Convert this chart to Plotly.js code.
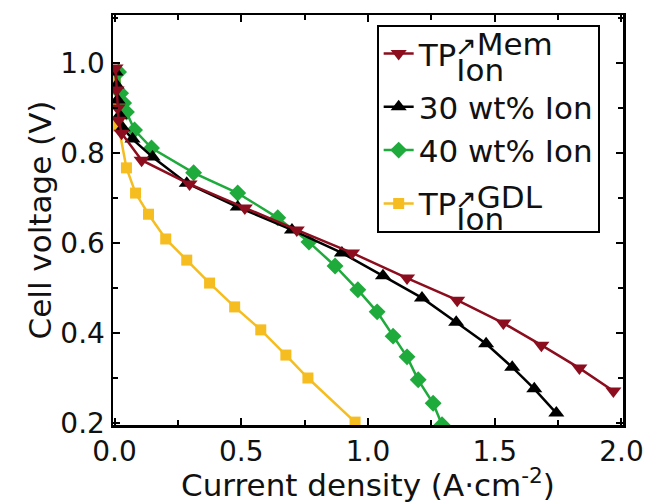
<!DOCTYPE html>
<html>
<head>
<meta charset="utf-8">
<script src="https://cdn.plot.ly/plotly-3.0.1.min.js"></script>
<style>html,body{margin:0;padding:0;background:#fff;}#chart{width:655px;height:503px;}</style>
</head>
<body>
<div id="chart"></div>
<script>
// TP Ion -> Mem (dark red, triangle-down)
const memX = [0.004, 0.008, 0.012, 0.016, 0.028, 0.107, 0.296, 0.514, 0.719, 0.937, 1.154, 1.352, 1.534, 1.684, 1.834, 1.968];
const memY = [0.989, 0.940, 0.900, 0.873, 0.844, 0.784, 0.731, 0.678, 0.629, 0.578, 0.522, 0.473, 0.422, 0.373, 0.322, 0.271];
// 30 wt% Ion (black, triangle-up)
const w30X = [0.004, 0.008, 0.012, 0.020, 0.032, 0.071, 0.150, 0.285, 0.486, 0.700, 0.897, 1.059, 1.213, 1.348, 1.466, 1.569, 1.656, 1.743];
const w30Y = [0.980, 0.951, 0.918, 0.884, 0.856, 0.831, 0.791, 0.733, 0.680, 0.629, 0.578, 0.527, 0.478, 0.424, 0.376, 0.324, 0.276, 0.222];
// 40 wt% Ion (green, diamond)
const w40X = [0.016, 0.024, 0.036, 0.047, 0.079, 0.146, 0.312, 0.486, 0.644, 0.767, 0.870, 0.960, 1.036, 1.099, 1.154, 1.198, 1.257, 1.292];
const w40Y = [0.980, 0.933, 0.911, 0.891, 0.851, 0.811, 0.756, 0.711, 0.656, 0.602, 0.549, 0.496, 0.447, 0.393, 0.347, 0.296, 0.244, 0.196];
// TP Ion -> GDL (yellow, square)
const gdlX = [0.003, 0.008, 0.016, 0.047, 0.083, 0.134, 0.202, 0.285, 0.375, 0.474, 0.577, 0.676, 0.763, 0.949];
const gdlY = [0.960, 0.910, 0.860, 0.767, 0.711, 0.664, 0.609, 0.562, 0.511, 0.458, 0.407, 0.351, 0.300, 0.202];

const names = {
  mem: "TP<span style='baseline-shift:-15px'>Ion</span>",
  w30: "30 wt% Ion",
  w40: "40 wt% Ion",
  gdl: "TP<span style='baseline-shift:-15px'>Ion</span>"
};
const supText = ["<span style='font-size:26px'>↗</span>Mem", "<span style='font-size:26px'>↗</span>GDL"];
const xTitle = 'Current density (A·cm<sup>-2</sup>)';
const yTitle = 'Cell voltage (V)';

const colors = {mem: '#8b0d1e', w30: '#000000', w40: '#1faa3c', gdl: '#f5bd1f'};
const FONT = 'DejaVu Sans, Verdana, sans-serif';
const TXT = '#111111';

function tr(x, y, name, color, symbol, size, rank, group) {
  return {
    x: x, y: y, name: name, type: 'scatter', mode: 'lines+markers',
    line: {color: color, width: 2.5},
    marker: {color: color, symbol: symbol, size: size},
    legendgroup: group, legendrank: rank
  };
}

const data = [
  tr(gdlX, gdlY, names.gdl, colors.gdl, 'square', 11, 4, 'c'),
  tr(w40X, w40Y, names.w40, colors.w40, 'diamond', 13, 3, 'b'),
  tr(w30X, w30Y, names.w30, colors.w30, 'triangle-up', 14, 2, 'b'),
  tr(memX, memY, names.mem, colors.mem, 'triangle-down', 14, 1, 'a')
];

const axisCommon = {
  showline: true, linecolor: '#000', linewidth: 2.5, mirror: 'allticks',
  ticks: 'inside', ticklen: 7, tickwidth: 2, tickcolor: '#000',
  showgrid: false, zeroline: false,
  tickfont: {family: FONT, size: 28, color: TXT},
  minor: {ticks: 'inside', ticklen: 5, tickwidth: 2, tickcolor: '#000', showgrid: false}
};

const layout = {
  width: 655, height: 503,
  margin: {l: 113, r: 32, t: 15, b: 78},
  paper_bgcolor: '#fff', plot_bgcolor: '#fff',
  font: {family: FONT, color: TXT},
  showlegend: true,
  xaxis: Object.assign({}, axisCommon, {
    range: [-0.006, 2.006], dtick: 0.5, tick0: 0, tickformat: '.1f',
    minor: Object.assign({}, axisCommon.minor, {dtick: 0.25}),
    title: {text: xTitle, font: {family: FONT, size: 31, color: TXT}, standoff: 6}
  }),
  yaxis: Object.assign({}, axisCommon, {
    range: [0.1956, 1.1067], dtick: 0.2, tick0: 0, tickformat: '.1f',
    minor: Object.assign({}, axisCommon.minor, {dtick: 0.1}),
    title: {text: yTitle, font: {family: FONT, size: 31, color: TXT}, standoff: 0}
  }),
  legend: {
    x: 0.517, y: 0.976, xanchor: 'left', yanchor: 'top',
    bgcolor: '#fff', bordercolor: '#000', borderwidth: 2,
    font: {family: FONT, size: 31, color: TXT},
    traceorder: 'grouped', tracegroupgap: 10, itemwidth: 30
  },
  annotations: [
    {xref: 'paper', yref: 'paper', x: 0.666, y: 0.93, xanchor: 'left', yanchor: 'middle', showarrow: false,
     text: supText[0], font: {family: FONT, size: 31, color: TXT}},
    {xref: 'paper', yref: 'paper', x: 0.666, y: 0.557, xanchor: 'left', yanchor: 'middle', showarrow: false,
     text: supText[1], font: {family: FONT, size: 31, color: TXT}}
  ]
};

Plotly.newPlot('chart', data, layout, {displayModeBar: false, staticPlot: true});
</script>
</body>
</html>
